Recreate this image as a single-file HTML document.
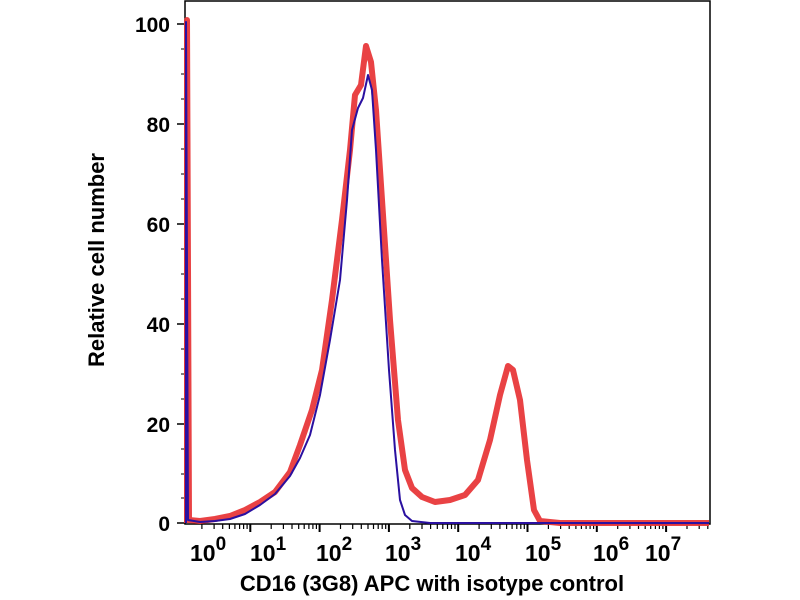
<!DOCTYPE html>
<html><head><style>
body{margin:0;background:#fff;}
svg{display:block;font-family:"Liberation Sans",sans-serif;font-weight:bold;}
</style></head><body>
<svg width="800" height="600" viewBox="0 0 800 600">
<rect x="185" y="1" width="525" height="523" fill="none" stroke="#000" stroke-width="1.5"/>
<g stroke="#000" stroke-width="1.5">
<line x1="177" y1="523" x2="185" y2="523"/><line x1="177" y1="424" x2="185" y2="424"/><line x1="177" y1="324" x2="185" y2="324"/><line x1="177" y1="224" x2="185" y2="224"/><line x1="177" y1="124" x2="185" y2="124"/><line x1="177" y1="24" x2="185" y2="24"/>
</g>
<g stroke="#000" stroke-width="1">
<line x1="181" y1="498" x2="185" y2="498"/><line x1="181" y1="474" x2="185" y2="474"/><line x1="181" y1="449" x2="185" y2="449"/>
<line x1="181" y1="399" x2="185" y2="399"/><line x1="181" y1="374" x2="185" y2="374"/><line x1="181" y1="349" x2="185" y2="349"/>
<line x1="181" y1="299" x2="185" y2="299"/><line x1="181" y1="274" x2="185" y2="274"/><line x1="181" y1="249" x2="185" y2="249"/>
<line x1="181" y1="199" x2="185" y2="199"/><line x1="181" y1="174" x2="185" y2="174"/><line x1="181" y1="149" x2="185" y2="149"/>
<line x1="181" y1="99" x2="185" y2="99"/><line x1="181" y1="74" x2="185" y2="74"/><line x1="181" y1="49" x2="185" y2="49"/>
</g>
<path stroke="#000" stroke-width="2" fill="none" d="M250.3 524v8M319.6 524v8M388.9 524v8M458.2 524v8M527.5 524v8M596.8 524v8M666.1 524v8"/>
<path stroke="#000" stroke-width="1.2" fill="none" d="M201.9 524v5M214.1 524v5M222.7 524v5M229.4 524v5M234.9 524v5M239.6 524v5M243.6 524v5M247.1 524v5
M271.2 524v5M283.4 524v5M292 524v5M298.7 524v5M304.2 524v5M308.9 524v5M312.9 524v5M316.4 524v5
M340.5 524v5M352.7 524v5M361.3 524v5M368 524v5M373.5 524v5M378.2 524v5M382.2 524v5M385.7 524v5
M409.8 524v5M422 524v5M430.6 524v5M437.3 524v5M442.8 524v5M447.5 524v5M451.5 524v5M455 524v5
M479.1 524v5M491.3 524v5M499.9 524v5M506.6 524v5M512.1 524v5M516.8 524v5M520.8 524v5M524.3 524v5
M548.4 524v5M560.6 524v5M569.2 524v5M575.9 524v5M581.4 524v5M586.1 524v5M590.1 524v5M593.6 524v5
M617.7 524v5M629.9 524v5M638.5 524v5M645.2 524v5M650.7 524v5M655.4 524v5M659.4 524v5M662.9 524v5
M687 524v5M699.2 524v5M707.8 524v5"/>
<g font-size="21" text-anchor="end">
<text x="170" y="531">0</text><text x="170" y="432">20</text><text x="170" y="332">40</text><text x="170" y="232">60</text><text x="170" y="132">80</text><text x="170" y="32">100</text>
</g>
<g font-size="23">
<text x="190" y="561">10<tspan font-size="19" dy="-11">0</tspan></text>
<text x="250" y="561">10<tspan font-size="19" dy="-11">1</tspan></text>
<text x="316" y="561">10<tspan font-size="19" dy="-11">2</tspan></text>
<text x="385" y="561">10<tspan font-size="19" dy="-11">3</tspan></text>
<text x="455" y="561">10<tspan font-size="19" dy="-11">4</tspan></text>
<text x="525" y="561">10<tspan font-size="19" dy="-11">5</tspan></text>
<text x="593" y="561">10<tspan font-size="19" dy="-11">6</tspan></text>
<text x="645" y="561">10<tspan font-size="19" dy="-11">7</tspan></text>
</g>
<text x="432" y="591" font-size="22" text-anchor="middle">CD16 (3G8) APC with isotype control</text>
<text transform="translate(104,260) rotate(-90)" font-size="22" text-anchor="middle">Relative cell number</text>
<path fill="none" stroke="#e8383a" stroke-width="6" stroke-linejoin="round" opacity="0.95"
d="M187,523 L187,20 L189,520 L200,521 L215,519 L230,516 L245,510 L260,502 L275,492 L290,472 L300,445 L312,410 L322,370 L332,300 L342,220 L350,150 L355,95 L361,85 L366,46 L371,62 L376,110 L382,200 L390,320 L398,420 L405,470 L412,488 L422,497 L435,502 L450,500 L465,495 L478,480 L490,440 L500,395 L508,366 L513,370 L520,400 L527,460 L534,510 L540,521 L560,523 L709,523"/>
<path fill="none" stroke="#2a10a0" stroke-width="2" stroke-linejoin="round"
d="M186,523 L186,22 L188,520 L200,522 L215,521 L230,519 L245,514 L260,505 L275,494 L290,476 L300,458 L310,435 L320,395 L330,340 L340,280 L347,200 L352,130 L358,108 L363,98 L368,75 L372,90 L376,150 L382,260 L389,370 L395,450 L400,500 L405,515 L412,521 L430,523 L709,523"/>
</svg>
</body></html>
